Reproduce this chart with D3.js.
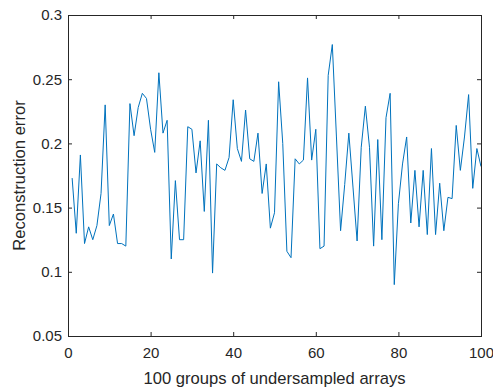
<!DOCTYPE html>
<html>
<head>
<meta charset="utf-8">
<script src="https://d3js.org/d3.v7.min.js"></script>
<style>
    body { margin: 0; background: #fff; }
    svg { display: block; }
    .tick text { font-family: "Liberation Sans", Arial, sans-serif; font-size: 15px; fill: #262626; }
    .axisLabel { font-family: "Liberation Sans", Arial, sans-serif; font-size: 16.6px; fill: #262626; }
</style>
</head>
<body>
<div id="chart"></div>
<script>
// reconstruction error for each of the 100 groups
const groups = d3.range(1, 101)
const errors = [
    0.173, 0.130, 0.191, 0.122, 0.135, 0.125, 0.136, 0.161, 0.230, 0.136,
    0.145, 0.122, 0.122, 0.120, 0.231, 0.206, 0.228, 0.239, 0.235, 0.211,
    0.193, 0.255, 0.208, 0.218, 0.110, 0.171, 0.125, 0.125, 0.213, 0.211,
    0.177, 0.202, 0.147, 0.218, 0.099, 0.184, 0.181, 0.179, 0.189, 0.234,
    0.196, 0.186, 0.226, 0.188, 0.186, 0.208, 0.161, 0.184, 0.134, 0.146,
    0.248, 0.200, 0.116, 0.111, 0.188, 0.184, 0.187, 0.251, 0.187, 0.211,
    0.118, 0.120, 0.253, 0.277, 0.205, 0.132, 0.168, 0.208, 0.166, 0.124,
    0.197, 0.229, 0.197, 0.120, 0.203, 0.125, 0.220, 0.239, 0.090, 0.153,
    0.184, 0.205, 0.138, 0.179, 0.135, 0.179, 0.129, 0.196, 0.129, 0.169,
    0.132, 0.158, 0.157, 0.214, 0.179, 0.205, 0.238, 0.165, 0.196, 0.182
]
const xTicks = [0, 20, 40, 60, 80, 100]
const yTicks = [0.05, 0.1, 0.15, 0.2, 0.25, 0.3]
const xLabel = "100 groups of undersampled arrays"
const yLabel = "Reconstruction error"

const width = 493
const height = 387
const margin = { top: 15, right: 12, bottom: 51, left: 68 }
const innerW = width - margin.left - margin.right
const innerH = height - margin.top - margin.bottom
const axisColor = "#262626"

const svg = d3.select("#chart").append("svg")
    .attr("width", width)
    .attr("height", height)

const x = d3.scaleLinear().domain([0, 100]).range([margin.left, margin.left + innerW])
const y = d3.scaleLinear().domain([0.05, 0.3]).range([margin.top + innerH, margin.top])

// data line first, axes on top like matlab
const line = d3.line()
    .x((d, i) => x(groups[i]))
    .y(d => y(d))

svg.append("path")
    .datum(errors)
    .attr("fill", "none")
    .attr("stroke", "#0072BD")
    .attr("stroke-width", 1)
    .attr("stroke-linejoin", "miter")
    .attr("d", line)

function styleAxis(g, hideText) {
    g.select(".domain").remove()
    g.selectAll(".tick line").attr("stroke", axisColor).attr("stroke-width", 1)
    if (hideText) g.selectAll(".tick text").remove()
}

// bottom & left axes with inward ticks
svg.append("g")
    .attr("transform", `translate(0,${margin.top + innerH})`)
    .call(d3.axisBottom(x).tickValues(xTicks).tickSizeInner(-4).tickPadding(11.5).tickFormat(d3.format("d")))
    .call(g => styleAxis(g, false))

svg.append("g")
    .attr("transform", `translate(${margin.left},0)`)
    .call(d3.axisLeft(y).tickValues(yTicks).tickSizeInner(-4).tickPadding(6).tickFormat(d => String(+d.toFixed(2))))
    .call(g => styleAxis(g, false))

// top & right mirror ticks
svg.append("g")
    .attr("transform", `translate(0,${margin.top})`)
    .call(d3.axisTop(x).tickValues(xTicks).tickSizeInner(-4))
    .call(g => styleAxis(g, true))

svg.append("g")
    .attr("transform", `translate(${margin.left + innerW},0)`)
    .call(d3.axisRight(y).tickValues(yTicks).tickSizeInner(-4))
    .call(g => styleAxis(g, true))

// box
svg.append("rect")
    .attr("x", margin.left + 0.5)
    .attr("y", margin.top + 0.5)
    .attr("width", innerW)
    .attr("height", innerH)
    .attr("fill", "none")
    .attr("stroke", axisColor)
    .attr("stroke-width", 1)

svg.append("text")
    .attr("class", "axisLabel")
    .attr("x", margin.left + innerW / 2)
    .attr("y", 384)
    .attr("text-anchor", "middle")
    .text(xLabel)

svg.append("text")
    .attr("class", "axisLabel")
    .attr("transform", `translate(24.5,${margin.top + innerH / 2}) rotate(-90)`)
    .attr("text-anchor", "middle")
    .text(yLabel)
</script>
</body>
</html>
